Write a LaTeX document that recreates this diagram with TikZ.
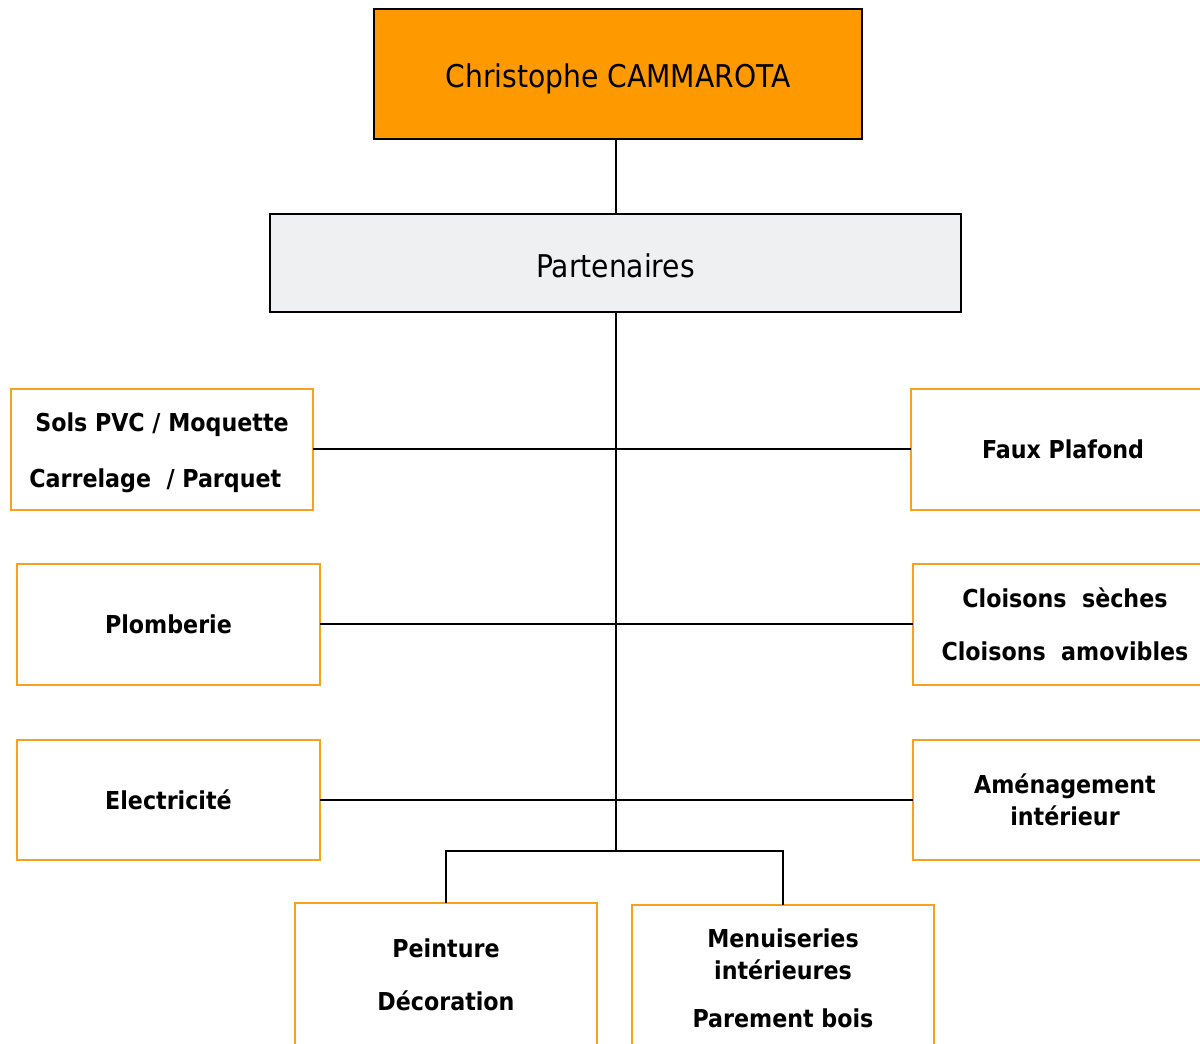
\documentclass[tikz,border=0pt]{standalone}
\usepackage{fontspec}
\setmainfont{DejaVu Sans Condensed}
\definecolor{orng}{HTML}{FF9900}
\definecolor{lgray}{HTML}{EFF0F2}
\definecolor{obord}{HTML}{F7A11C}
\begin{document}
\begin{tikzpicture}[x=0.75pt,y=-0.75pt,
  box/.style={draw=obord, line width=1.5pt, fill=white, inner sep=0pt, outer sep=0pt,
    align=center, font=\bfseries\fontsize{18.5}{24}\selectfont},
  mainbox/.style={draw=black, line width=1.5pt, inner sep=0pt, outer sep=0pt,
    font=\fontsize{23.5}{28}\selectfont},
  conn/.style={draw=black, line width=1.5pt}]
\useasboundingbox (0,0) rectangle (1200,1044);
\clip (0,0) rectangle (1200,1044);
% top boxes
\node[mainbox, fill=orng, minimum width=366pt, minimum height=97.5pt, text height=20pt, text depth=0pt] (top) at (618,74) {Christophe CAMMAROTA};
\node[mainbox, fill=lgray, minimum width=518.25pt, minimum height=73.5pt, text height=21.7pt, text depth=0pt] (part) at (615.5,263) {Partenaires};
% left boxes
\node[box, minimum width=226.5pt, minimum height=90.75pt] (sols) at (162,449.5) {\rule{0pt}{18.5pt}Sols PVC / Moquette\\[18pt]Carrelage~\ / Parquet\hspace*{10pt}};
\node[box, minimum width=227.25pt, minimum height=90.75pt] (plomb) at (168.5,624.5) {Plomberie};
\node[box, minimum width=227.25pt, minimum height=90pt] (elec) at (168.5,800) {Electricité};
% right boxes
\node[box, minimum width=228pt, minimum height=90.75pt] (faux) at (1063,449.5) {Faux Plafond};
\node[box, minimum width=228pt, minimum height=90.75pt] (cloi) at (1065,624.5) {Cloisons~\ sèches\\[15.75pt]Cloisons~\ amovibles};
\node[box, minimum width=228pt, minimum height=90pt] (amen) at (1065,800) {Aménagement\\intérieur};
% bottom boxes
\node[box, minimum width=226.5pt, minimum height=108pt] (pein) at (446,975) {Peinture\\[15.75pt]Décoration};
\node[box, minimum width=226.5pt, minimum height=109.5pt] (menu) at (783,978) {Menuiseries\\intérieures\\[12pt]Parement bois};
% connectors
\coordinate (j) at (615.5,851);
\draw[conn] (top.south -| part.north) -- (part.north);
\draw[conn] (part.south) -- (j);
\draw[conn] (sols.east) -- (faux.west);
\draw[conn] (plomb.east) -- (cloi.west);
\draw[conn] (elec.east) -- (amen.west);
\draw[conn] (j) -| (pein.north);
\draw[conn] (j) -| (menu.north);
\end{tikzpicture}
\end{document}
